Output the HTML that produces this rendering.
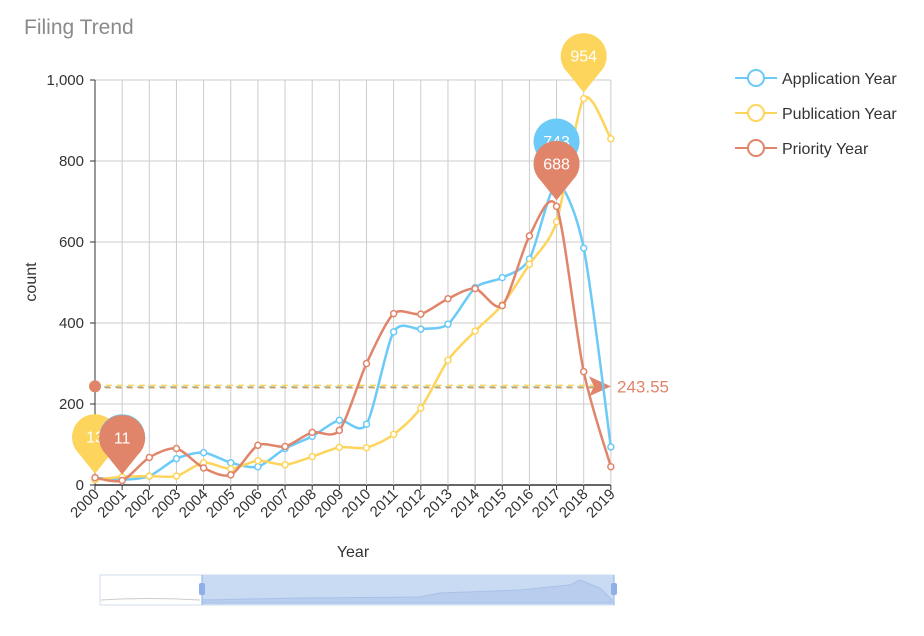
<!DOCTYPE html>
<html><head><meta charset="utf-8"><style>
body{margin:0;background:#fff;width:924px;height:631px;overflow:hidden;font-family:"Liberation Sans",sans-serif}
</style></head><body>
<svg id="s" width="924" height="631" xmlns="http://www.w3.org/2000/svg" font-family="Liberation Sans, sans-serif">
<text x="24" y="34" font-size="21" fill="#8a8a8a">Filing Trend</text>
<g id="grid"></g>
<g id="series"></g>
<g id="legend">
<line x1="735" y1="78" x2="777" y2="78" stroke="#6bcaf7" stroke-width="2"/><circle cx="756" cy="78" r="8" fill="#fff" stroke="#6bcaf7" stroke-width="2"/>
<text x="782" y="84" font-size="16" fill="#333">Application Year</text>
<line x1="735" y1="113" x2="777" y2="113" stroke="#fdd55c" stroke-width="2"/><circle cx="756" cy="113" r="8" fill="#fff" stroke="#fdd55c" stroke-width="2"/>
<text x="782" y="119" font-size="16" fill="#333">Publication Year</text>
<line x1="735" y1="148" x2="777" y2="148" stroke="#e0856a" stroke-width="2"/><circle cx="756" cy="148" r="8" fill="#fff" stroke="#e0856a" stroke-width="2"/>
<text x="782" y="154" font-size="16" fill="#333">Priority Year</text>
</g>
<text x="353" y="557" font-size="16" fill="#333" text-anchor="middle">Year</text>
<text transform="translate(36,282) rotate(-90)" font-size="16" fill="#333" text-anchor="middle">count</text>
<rect x="100" y="575" width="514" height="30" fill="#fff" stroke="#d2dcee"/>
<rect x="202" y="575" width="412" height="30" fill="#c9daf3"/>
<path d="M101,600 Q150,597 200,600" stroke="#ccc" fill="none"/>
<path d="M202,603 L202,600 L300,598 L420,597 L440,593 L520,590 L570,585 L580,580 L600,588 L612,600 L612,603 Z" fill="#b9cdee" stroke="#a9c0e8"/>
<rect x="199" y="583" width="6" height="12" rx="2" fill="#8fb0e6"/>
<rect x="611" y="583" width="6" height="12" rx="2" fill="#8fb0e6"/>
<line x1="202" y1="575" x2="202" y2="605" stroke="#8fb0e6"/>
<line x1="614" y1="575" x2="614" y2="605" stroke="#8fb0e6"/>
</svg>
<script>
const X0=95,DX=27.15,Y0=485,K=0.405;
const xs=i=>X0+i*DX, ys=v=>Y0-v*K;
const ns="http://www.w3.org/2000/svg";
function el(p,t,a,txt){const e=document.createElementNS(ns,t);for(const k in a)e.setAttribute(k,a[k]);if(txt!=null)e.textContent=txt;p.appendChild(e);return e;}
const g=document.getElementById('grid');
for(let v=0;v<=1000;v+=200){
 el(g,'line',{x1:X0,x2:xs(19),y1:ys(v),y2:ys(v),stroke:v?'#ccc':'#333','stroke-width':v?1:1.5});
 el(g,'line',{x1:X0-5,x2:X0,y1:ys(v),y2:ys(v),stroke:'#333'});
 el(g,'text',{x:X0-11,y:ys(v)+5,'font-size':15,fill:'#333','text-anchor':'end'},v?v.toLocaleString('en-US'):'0');
}
for(let i=0;i<20;i++){
 if(i>0)el(g,'line',{x1:xs(i),x2:xs(i),y1:ys(1000),y2:Y0,stroke:'#ccc'});
 el(g,'line',{x1:xs(i),x2:xs(i),y1:Y0,y2:Y0+5,stroke:'#333'});
 el(g,'text',{transform:`translate(${xs(i)+5},${Y0+10}) rotate(-45)`,'font-size':15,fill:'#333','text-anchor':'end'},2000+i);
}
el(g,'line',{x1:X0,x2:X0,y1:ys(1000),y2:Y0,stroke:'#333'});
const D={
b:[18,13,22,65,80,55,45,90,120,160,150,378,385,397,487,512,558,743,585,94],
y:[13,20,22,22,55,40,60,50,70,93,92,125,190,308,380,445,545,650,954,855],
r:[18,11,68,90,42,25,98,95,130,135,300,423,422,460,485,443,615,688,280,45]};
const C={b:'#6bcaf7',y:'#fdd55c',r:'#e0856a'};
const S=document.getElementById('series');
function path(d){let p=d.map((v,i)=>[xs(i),ys(v)]);let s=`M${p[0]}`;
 for(let i=0;i<p.length-1;i++){const p0=p[i-1]||p[i],p1=p[i],p2=p[i+1],p3=p[i+2]||p2,t=0.4/3;
 s+=` C${p1[0]+(p2[0]-p0[0])*t},${p1[1]+(p2[1]-p0[1])*t} ${p2[0]-(p3[0]-p1[0])*t},${p2[1]-(p3[1]-p1[1])*t} ${p2[0]},${p2[1]}`;}return s;}
const ay=ys(243.55);
el(S,'line',{x1:95,x2:605,y1:ay-1,y2:ay-1,stroke:'#fdd55c','stroke-width':1.5,'stroke-dasharray':'6,5'});
el(S,'line',{x1:95,x2:605,y1:ay+0.5,y2:ay+0.5,stroke:'#9cc98a','stroke-width':1.2,'stroke-dasharray':'6,5','stroke-dashoffset':2});
el(S,'line',{x1:95,x2:605,y1:ay+1.5,y2:ay+1.5,stroke:'#e0856a','stroke-width':1,'stroke-dasharray':'6,5','stroke-dashoffset':1});
el(S,'circle',{cx:95,cy:ay,r:6,fill:'#e0856a'});
el(S,'path',{d:`M589,${ay-10} L611,${ay} L589,${ay+10} L594,${ay} Z`,fill:'#e0856a'});
el(S,'text',{x:617,y:ay+6,'font-size':17,fill:'#e0856a'},'243.55');
['b','y','r'].forEach(k=>{el(S,'path',{d:path(D[k]),fill:'none',stroke:C[k],'stroke-width':2.5});
 D[k].forEach((v,i)=>el(S,'circle',{cx:xs(i),cy:ys(v),r:3,fill:'#fff',stroke:C[k],'stroke-width':1.5}));});
function pin(i,v,k,lab){const x=xs(i),ty=ys(v)-6,cy=ty-37,r=23;
 el(S,'path',{d:`M${x},${ty} L${x-16},${cy+17} A${r},${r} 0 1 1 ${x+16},${cy+17} Z`,fill:C[k]});
 el(S,'text',{x:x,y:cy+6,'font-size':16,fill:'#fff','text-anchor':'middle'},lab);}
pin(0,13,'y','13');pin(1,13,'b','13');pin(1,11,'r','11');
pin(18,954,'y','954');pin(17,743,'b','743');pin(17,688,'r','688');
</script>
</body></html>
